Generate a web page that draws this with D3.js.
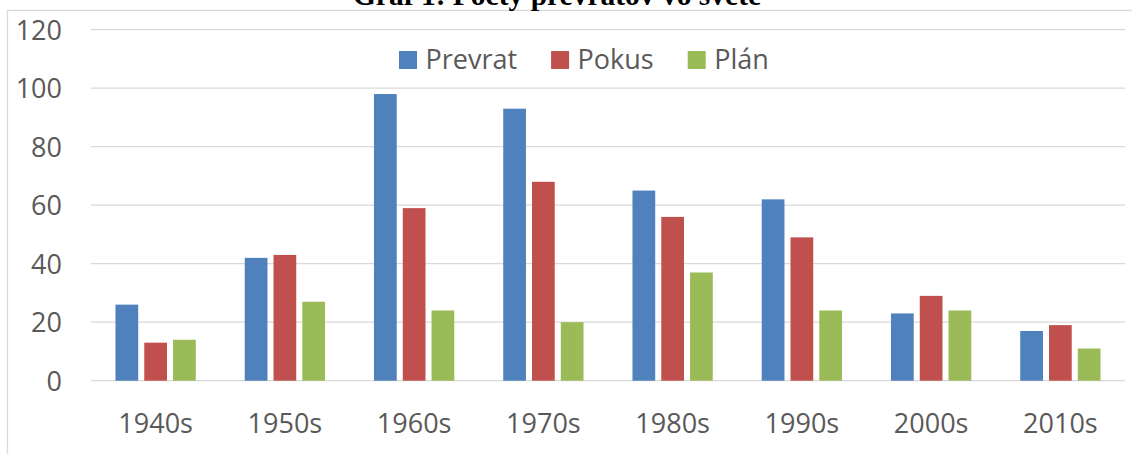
<!DOCTYPE html>
<html>
<head>
<meta charset="utf-8">
<script src="https://cdn.jsdelivr.net/npm/d3@7"></script>
<style>
  body { margin: 0; background: #fff; }
  svg { display: block; }
  text { font-family: "Open Sans", sans-serif; fill: #595959; }
  .title { font-family: "Liberation Serif", "Times New Roman", serif; font-weight: bold; fill: #000; }
</style>
</head>
<body>
<svg id="chart"></svg>
<script>
const decades = ["1940s", "1950s", "1960s", "1970s", "1980s", "1990s", "2000s", "2010s"];
const seriesNames = ["Prevrat", "Pokus", "Plán"];
const prevrat = [26, 42, 98, 93, 65, 62, 23, 17];
const pokus = [13, 43, 59, 68, 56, 49, 29, 19];
const plan = [14, 27, 24, 20, 37, 24, 24, 11];
const yTicks = [0, 20, 40, 60, 80, 100, 120];
const colors = ["#4F81BD", "#C0504D", "#9BBB59"];

const width = 1132, height = 454;
const margin = { top: 29.7, right: 7, bottom: 73.3, left: 91 };
const values = [prevrat, pokus, plan];

const svg = d3.select("#chart")
    .attr("width", width)
    .attr("height", height)
    .attr("viewBox", `0 0 ${width} ${height}`);

// chart area frame (only top and left edges are in view)
svg.append("rect")
    .attr("x", 7.5).attr("y", 10.5)
    .attr("width", 1300).attr("height", 600)
    .attr("fill", "#fff")
    .attr("stroke", "#d9d9d9")
    .attr("stroke-width", 1.3);

// title, cut by the top of the picture
svg.append("text")
    .attr("class", "title")
    .attr("x", 557)
    .attr("y", 5)
    .attr("text-anchor", "middle")
    .style("font-size", "29.5px")
    .text("Graf 1: Počty prevratov vo svete");

const x0 = d3.scaleBand()
    .domain(decades)
    .range([margin.left, width - margin.right]);

const x1 = d3.scaleBand()
    .domain(seriesNames)
    .range([0, x0.bandwidth()])
    .paddingInner(0.21)
    .paddingOuter(0.85);

const y = d3.scaleLinear()
    .domain([0, 120])
    .range([height - margin.bottom, margin.top]);

// gridlines
svg.append("g")
    .attr("class", "grid")
    .selectAll("line")
    .data(yTicks)
    .join("line")
        .attr("x1", margin.left)
        .attr("x2", width - margin.right)
        .attr("y1", d => y(d))
        .attr("y2", d => y(d))
        .attr("stroke", "#d9d9d9")
        .attr("stroke-width", 1.3);

// y axis labels
let yAxis = d3.axisLeft(y).tickValues(yTicks).tickSize(0).tickPadding(0);
svg.append("g")
    .attr("transform", `translate(62, 0)`)
    .call(yAxis)
    .call(g => g.select(".domain").remove())
    .selectAll("text")
        .attr("dy", "0.36em")
        .style("font-size", "27px")
        .style("font-family", "'Open Sans', sans-serif")
        .attr("fill", "#595959");

// bars
const groups = svg.append("g")
    .attr("class", "bars")
    .selectAll("g")
    .data(decades)
    .join("g")
        .attr("transform", d => `translate(${x0(d)}, 0)`);

groups.selectAll("rect")
    .data((d, i) => seriesNames.map((s, k) => ({ key: s, value: values[k][i], k })))
    .join("rect")
        .attr("x", d => x1(d.key))
        .attr("y", d => y(d.value))
        .attr("width", x1.bandwidth())
        .attr("height", d => y(0) - y(d.value))
        .attr("fill", d => colors[d.k]);

// x axis labels
let xAxis = d3.axisBottom(x0).tickSize(0).tickPadding(0);
svg.append("g")
    .attr("transform", `translate(0, 433)`)
    .call(xAxis)
    .call(g => g.select(".domain").remove())
    .selectAll("text")
        .attr("dy", 0)
        .attr("y", 0)
        .style("font-size", "27px")
        .style("font-family", "'Open Sans', sans-serif")
        .attr("fill", "#595959");

// legend
const legend = svg.append("g").attr("class", "legend");
let lx = 399;
seriesNames.forEach((name, k) => {
    legend.append("rect")
        .attr("x", lx).attr("y", 51)
        .attr("width", 18).attr("height", 18)
        .attr("fill", colors[k]);
    const t = legend.append("text")
        .attr("x", lx + 26.5)
        .attr("y", 69)
        .style("font-size", "27px")
        .text(name);
    lx += 26.5 + t.node().getComputedTextLength() + 34;
});
</script>
</body>
</html>
